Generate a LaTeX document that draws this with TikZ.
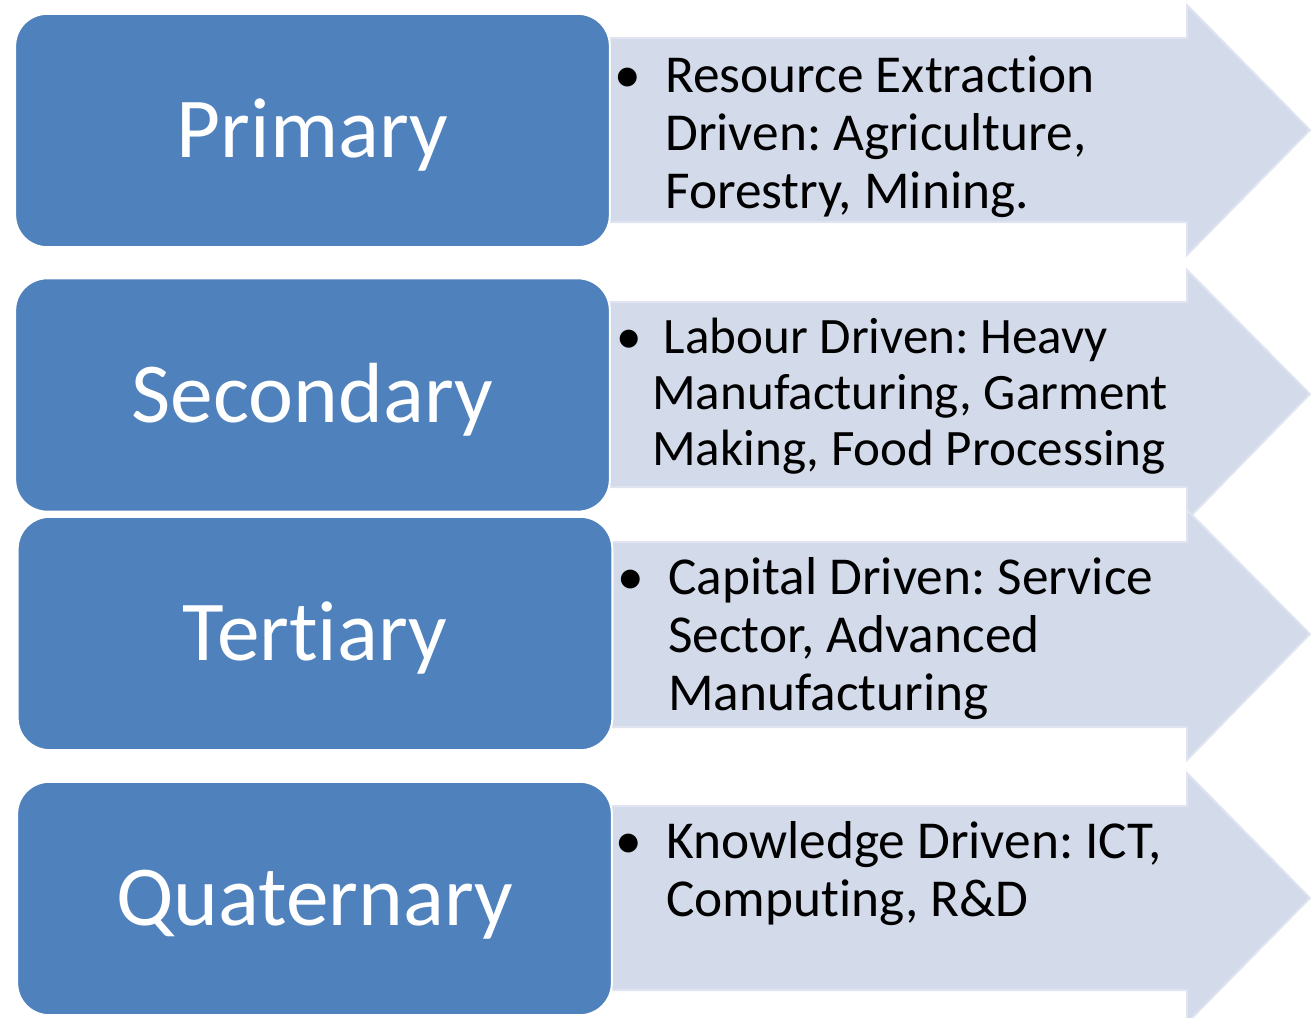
\documentclass[tikz,border=0pt]{standalone}
\usepackage{fontspec}
\setmainfont{Carlito}[Ligatures={NoCommon,NoContextual}]
\usetikzlibrary{positioning}
\definecolor{sectorblue}{RGB}{79,129,189}
\definecolor{arrowfill}{RGB}{211,218,234}
\definecolor{arrowline}{RGB}{223,228,240}
\newcommand{\bul}[1][18pt]{\llap{\textbullet\hspace{#1}}}
\frenchspacing

\begin{document}
\begin{tikzpicture}[x=0.75pt, y=-0.75pt,
			sector/.style = {rectangle, rounded corners=24pt, fill=sectorblue, draw=white, line width=1.5pt, text=white, minimum width=446pt, minimum height=175pt, font=\fontsize{64}{70}\selectfont, text height=41pt, text depth=0pt},
			flow/.style = {fill=arrowfill, draw=arrowline, line width=1.5pt},
			desc/.style = {anchor=base west, inner sep=0pt, font=\fontsize{40}{43.5}\selectfont},
		]
		\useasboundingbox (0,0) rectangle (1313,1017);

		% arrows behind the boxes
		\draw[flow] (600,38) -- (1187,38) -- (1187,5) -- (1310,130) -- (1187,255) -- (1187,222) -- (600,222) -- cycle;
		\draw[flow] (600,302) -- (1187,302) -- (1187,270) -- (1310,394) -- (1187,520) -- (1187,487) -- (600,487) -- cycle;
		\draw[flow] (600,542) -- (1187,542) -- (1187,510) -- (1310,634) -- (1187,760) -- (1187,727) -- (600,727) -- cycle;
		\draw[flow] (600,806) -- (1187,806) -- (1187,773) -- (1310,898) -- (1187,1023) -- (1187,990) -- (600,990) -- cycle;

		% sectors
		\node[sector](prim) at (312.5,130.5){Primary};
		\node[sector](sec) at (312.5,395){Secondary};
		\node[sector](ter) at (315,633.5){Tertiary};
		\node[sector](quat) at (314.5,898.5){Quaternary};

		% descriptions
		\node[desc](primtxt) at (665,92){\begin{tabular}[t]{@{}l@{}}\bul Resource Extraction\\ Driven: Agriculture,\\ Forestry, Mining.\end{tabular}};
		\node[desc, font=\fontsize{38.3}{42}\selectfont](sectxt) at (652,353){\begin{tabular}[t]{@{}l@{}}\bul[8pt] Labour Driven: Heavy\\ Manufacturing, Garment\\ Making, Food Processing\end{tabular}};
		\node[desc](tertxt) at (668,594){\begin{tabular}[t]{@{}l@{}}\bul Capital Driven: Service\\ Sector, Advanced\\ Manufacturing\end{tabular}};
		\node[desc](quattxt) at (666,858){\begin{tabular}[t]{@{}l@{}}\bul Knowledge Driven: ICT,\\ Computing, R\&D\end{tabular}};

	\end{tikzpicture}
\end{document}
